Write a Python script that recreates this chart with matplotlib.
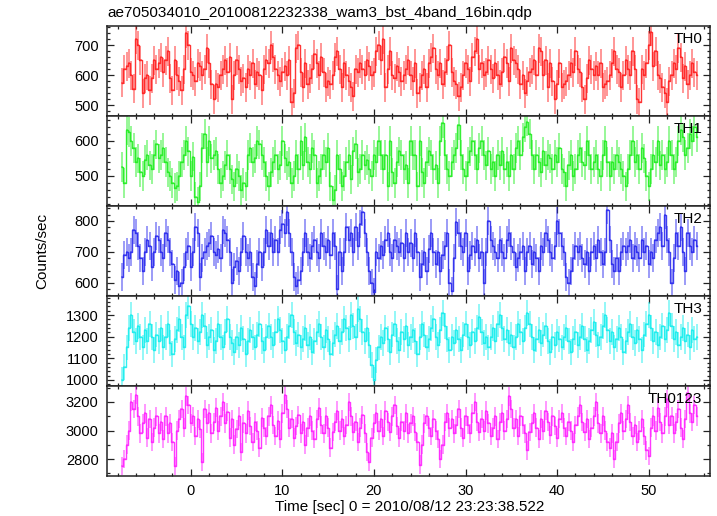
import numpy as np
import matplotlib
matplotlib.use("Agg")
import matplotlib.pyplot as plt
from matplotlib.ticker import MultipleLocator

plt.rcParams['font.family'] = ['Liberation Sans', 'DejaVu Sans']

# light curve binning (0.25 s bins), first bin centre
t_start = -7.5
bin_width = 0.25

# count rates, 4 s per row
th0 = [
    575, 620, 630, 640, 600, 555, 720, 700, 650, 540, 590, 600, 550, 590, 650, 620,
    640, 660, 610, 650, 680, 590, 550, 650, 600, 580, 550, 620, 740, 700, 610, 600,
    580, 640, 630, 600, 620, 690, 640, 570, 520, 570, 560, 600, 620, 650, 610, 660,
    520, 600, 650, 620, 580, 590, 560, 620, 600, 640, 570, 610, 600, 550, 620, 650,
    640, 700, 660, 620, 600, 580, 610, 630, 600, 650, 510, 540, 690, 700, 610, 560,
    640, 570, 590, 620, 670, 640, 600, 660, 610, 560, 580, 570, 600, 660, 680, 620,
    560, 640, 600, 580, 560, 530, 620, 610, 640, 620, 600, 650, 630, 600, 610, 680,
    700, 650, 720, 560, 620, 680, 600, 590, 630, 610, 580, 600, 620, 650, 600, 580,
    640, 540, 560, 600, 620, 560, 640, 660, 690, 620, 600, 640, 570, 610, 650, 700,
    610, 580, 570, 530, 560, 600, 640, 620, 580, 660, 680, 720, 620, 640, 600, 610,
    650, 620, 590, 640, 600, 570, 610, 660, 640, 580, 690, 650, 640, 620, 570, 600,
    540, 580, 610, 620, 650, 600, 690, 680, 600, 650, 560, 640, 580, 520, 570, 640,
    560, 570, 580, 600, 640, 610, 680, 620, 610, 560, 520, 590, 650, 620, 600, 630,
    600, 640, 560, 570, 580, 600, 640, 680, 620, 610, 560, 600, 650, 620, 600, 680,
    620, 520, 510, 620, 600, 640, 700, 745, 630, 680, 600, 590, 560, 540, 510, 580,
    600, 640, 620, 690, 660, 590, 630, 570, 600, 640, 610, 600,
]

th1 = [
    525, 480, 630, 625, 600, 580, 540, 550, 510, 500, 545, 560, 530, 520, 560, 590,
    550, 560, 580, 540, 510, 500, 480, 465, 470, 500, 540, 560, 600, 570, 500, 555,
    440, 425, 470, 580, 620, 540, 600, 550, 560, 570, 520, 480, 500, 530, 560, 520,
    490, 470, 520, 500, 460, 480, 470, 560, 580, 540, 550, 600, 590, 560, 540, 500,
    470, 510, 540, 560, 520, 530, 600, 550, 530, 540, 480, 500, 560, 520, 600, 530,
    610, 540, 520, 580, 560, 480, 500, 520, 560, 540, 580, 470, 430, 460, 560, 520,
    470, 500, 540, 560, 490, 570, 590, 510, 520, 560, 530, 545, 520, 500, 560, 540,
    600, 560, 520, 560, 470, 600, 510, 480, 540, 570, 560, 520, 530, 480, 600, 560,
    560, 470, 600, 510, 480, 540, 570, 560, 520, 530, 480, 600, 650, 560, 520, 500,
    540, 560, 580, 645, 560, 520, 500, 540, 570, 600, 560, 520, 580, 600, 560, 530,
    570, 520, 540, 500, 560, 530, 570, 520, 540, 500, 560, 520, 580, 600, 560, 610,
    640, 655, 620, 560, 520, 560, 540, 510, 570, 530, 560, 550, 520, 560, 540, 580,
    520, 510, 470, 530, 560, 500, 520, 560, 580, 540, 530, 600, 560, 520, 540, 560,
    520, 500, 560, 600, 540, 500, 540, 520, 560, 540, 520, 500, 470, 520, 560, 600,
    540, 560, 520, 580, 550, 500, 470, 520, 560, 540, 600, 530, 560, 520, 540, 600,
    560, 520, 540, 600, 630, 610, 560, 580, 620, 600, 640, 610,
]

th2 = [
    620, 690, 700, 680, 700, 770, 760, 720, 680, 640, 700, 740, 720, 650, 700, 750,
    740, 700, 680, 760, 740, 700, 660, 610, 640, 590, 600, 650, 700, 720, 650, 700,
    780, 760, 620, 680, 700, 720, 730, 750, 700, 690, 710, 680, 770, 760, 740, 700,
    600, 650, 670, 640, 700, 750, 700, 680, 700, 620, 590, 660, 700, 650, 700, 770,
    720, 760, 700, 740, 700, 770, 790, 760, 830, 760, 700, 620, 590, 610, 640, 700,
    760, 700, 680, 720, 740, 700, 680, 760, 720, 700, 740, 690, 760, 720, 580, 700,
    640, 700, 780, 740, 760, 700, 780, 720, 790, 830, 760, 700, 640, 600, 570, 700,
    680, 720, 690, 740, 760, 700, 680, 740, 720, 700, 730, 680, 760, 700, 730, 680,
    760, 700, 620, 660, 700, 640, 710, 760, 700, 660, 700, 640, 690, 720, 760, 600,
    575, 680, 795, 760, 720, 700, 760, 640, 690, 720, 700, 740, 680, 700, 600, 700,
    800, 740, 720, 700, 680, 740, 700, 680, 740, 760, 720, 700, 650, 680, 700, 720,
    640, 700, 720, 660, 700, 680, 640, 720, 700, 760, 740, 700, 680, 720, 800, 760,
    720, 700, 620, 600, 640, 680, 720, 700, 720, 680, 660, 700, 640, 700, 720, 680,
    740, 700, 660, 700, 835, 740, 660, 640, 680, 640, 700, 720, 700, 720, 740, 680,
    720, 700, 680, 740, 700, 720, 660, 700, 680, 740, 760, 780, 720, 820, 740, 700,
    600, 680, 760, 720, 780, 700, 640, 760, 720, 700, 740, 720,
]

th3 = [
    1000, 1060, 1150, 1240, 1300, 1220, 1180, 1250, 1200, 1150, 1230, 1180, 1260, 1200, 1140, 1210,
    1180, 1240, 1150, 1200, 1260, 1170, 1120, 1190, 1230, 1280, 1200, 1150, 1300, 1340, 1260, 1200,
    1240, 1180, 1220, 1300, 1250, 1160, 1200, 1230, 1140, 1180, 1260, 1200, 1150, 1220, 1280, 1200,
    1170, 1130, 1200, 1160, 1240, 1190, 1120, 1180, 1230, 1200, 1150, 1210, 1260, 1180, 1140, 1200,
    1250, 1200, 1160, 1220, 1280, 1230, 1180, 1140, 1200, 1250, 1300, 1220, 1170, 1210, 1150, 1190,
    1240, 1160, 1200, 1130, 1180, 1220, 1260, 1200, 1150, 1230, 1190, 1120, 1170, 1210, 1250, 1180,
    1220, 1280, 1240, 1190, 1300, 1250, 1200, 1330, 1280, 1220, 1180, 1240, 1160, 1070, 1000, 1090,
    1150, 1200, 1170, 1240, 1190, 1130, 1210, 1260, 1180, 1140, 1220, 1190, 1250, 1160, 1200, 1230,
    1180, 1120, 1200, 1260, 1210, 1150, 1190, 1240, 1280, 1200, 1160, 1230, 1310, 1250, 1190, 1140,
    1200, 1170, 1230, 1190, 1140, 1210, 1260, 1200, 1160, 1220, 1180, 1240, 1290, 1220, 1170, 1200,
    1150, 1200, 1240, 1180, 1260, 1300, 1240, 1190, 1230, 1170, 1210, 1150, 1200, 1260, 1220, 1180,
    1240, 1310, 1260, 1200, 1140, 1190, 1230, 1170, 1210, 1250, 1180, 1130, 1200, 1160, 1220, 1190,
    1150, 1200, 1240, 1180, 1130, 1190, 1220, 1160, 1200, 1250, 1190, 1140, 1180, 1230, 1270, 1210,
    1160, 1200, 1250, 1300, 1230, 1180, 1220, 1150, 1190, 1240, 1200, 1130, 1180, 1220, 1260, 1200,
    1170, 1230, 1190, 1140, 1210, 1260, 1300, 1240, 1180, 1220, 1160, 1200, 1250, 1190, 1230, 1310,
    1250, 1190, 1220, 1160, 1200, 1240, 1180, 1210, 1150, 1230, 1190, 1200,
]

th0123 = [
    2750, 2800, 2900, 3000, 3200, 3150, 3250, 3100, 2980, 3050, 3120, 2950, 3080, 2920, 3020, 3100,
    2980, 3060, 2940, 3100, 2980, 3050, 2920, 2750, 3000, 3080, 3150, 3020, 3240, 3180, 3050, 3100,
    2960, 3080, 3010, 2780, 3150, 3050, 3120, 2980, 3060, 3160, 3000, 3100, 3200, 3050, 3130, 2950,
    3080, 2900, 3010, 3100, 2850, 3050, 2980, 3140, 3030, 2920, 3060, 3000, 2880, 3090, 3020, 2960,
    3100, 3180, 3040, 2960, 3070, 2940, 3120, 3250, 3150, 3020, 3080, 2950, 3030, 3110, 2980, 3060,
    2900, 3020, 3100, 3000, 2940, 3080, 3160, 3040, 2980, 3100, 3020, 2880, 2990, 3060, 3140, 3000,
    3080, 2960, 3040, 3200, 3100, 2990, 3060, 2920, 3020, 3110, 2980, 2850, 2780, 2950, 3050, 3120,
    3000, 3080, 2960, 3140, 3060, 2990, 3100, 3180, 3030, 2950, 3060, 3000, 3120, 2980, 3050, 3100,
    2990, 2920, 2760, 2900, 3050, 3100, 3020, 2960, 3080, 3000, 2940, 2800, 2900, 3060, 3120, 3020,
    3080, 2980, 3040, 3150, 3020, 2950, 3100, 3040, 2980, 3120, 3200, 3060, 2990, 3080, 3000, 3140,
    3050, 2960, 3020, 3100, 2940, 3060, 3120, 3000, 3080, 3240, 3150, 3020, 3080, 2960, 3100, 3040,
    2980, 2860, 2990, 3050, 3120, 3020, 2940, 3080, 3000, 3140, 3060, 2970, 3100, 3030, 2950, 3080,
    3120, 3020, 2960, 3060, 3000, 2920, 3040, 3100, 3180, 3060, 2990, 3080, 2940, 3020, 3100, 3200,
    3050, 2980, 3100, 3000, 2920, 2880, 2980, 2800, 2920, 3050, 3120, 3000, 3080, 3180, 3060, 2960,
    3040, 2920, 3000, 3080, 2960, 2860, 2820, 3020, 3100, 3000, 3160, 3060, 2980, 3100, 3220, 3040,
    3100, 2980, 3060, 3150, 3020, 2940, 3080, 3260, 3120, 3060, 3180, 3100,
]

series = [th0, th1, th2, th3, th0123]
names = ["TH0", "TH1", "TH2", "TH3", "TH0123"]
errors = [48, 42, 45, 60, 65]   # typical 1-sigma error per bin
colors = ["#ff2020", "#22ee22", "#2a2aee", "#18eeee", "#ff22ff"]
ylims = [(464, 764), (414, 671), (558, 848), (972, 1388), (2681, 3312)]
yticks_major = [100, 100, 100, 100, 200]
yticks_minor = [20, 20, 20, 20, 100]

fig, axes = plt.subplots(5, 1, sharex=True, figsize=(7.17, 5.16), dpi=100)
fig.subplots_adjust(left=107 / 717, right=710 / 717, top=1 - 26 / 516,
                    bottom=1 - 476 / 516, hspace=0)

for ax, vals, name, err, col, yl, ymaj, ymin in zip(
        axes, series, names, errors, colors, ylims, yticks_major, yticks_minor):
    vals = np.array(vals, dtype=float)
    t = t_start + bin_width * np.arange(len(vals))
    # error bars drawn lighter, binned curve as a step line on top
    ax.errorbar(t, vals, xerr=bin_width / 2, yerr=err, fmt='none',
                ecolor=col, elinewidth=1.2, capsize=0, alpha=0.55)
    ax.step(t, vals, where='mid', color=col, lw=1.0, alpha=0.9)
    ax.set_ylim(*yl)
    ax.yaxis.set_major_locator(MultipleLocator(ymaj))
    ax.yaxis.set_minor_locator(MultipleLocator(ymin))
    ax.text(0.987, 0.935, name, transform=ax.transAxes, ha='right', va='top',
            fontsize=11)
    for s in ax.spines.values():
        s.set_linewidth(1.1)
        s.set_color("#222222")
    ax.tick_params(which='both', direction='in', top=True, right=True,
                   color="#222222", labelsize=10.5, pad=6)
    ax.tick_params(which='major', length=5, width=0.9)
    ax.tick_params(which='minor', length=2.5, width=0.9)

axes[-1].set_xlim(-9.15, 56.7)
axes[-1].xaxis.set_major_locator(MultipleLocator(10))
axes[-1].xaxis.set_minor_locator(MultipleLocator(2))

fig.text(107 / 717, 1 - 13 / 516, "ae705034010_20100812232338_wam3_bst_4band_16bin.qdp",
         ha='left', va='center', fontsize=11)
fig.text(42 / 717, 1 - 251 / 516, "Counts/sec", rotation=90,
         ha='center', va='center', fontsize=11)
fig.text(410 / 717, 1 - 507 / 516, "Time [sec] 0 = 2010/08/12 23:23:38.522",
         ha='center', va='center', fontsize=11)

fig.savefig("out.png", dpi=100)
